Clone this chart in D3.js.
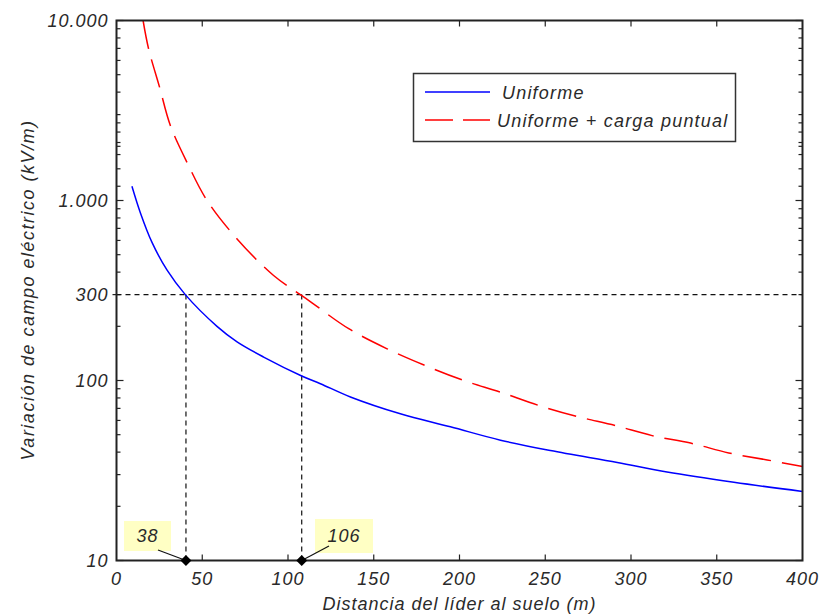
<!DOCTYPE html>
<html>
<head>
<meta charset="utf-8">
<script src="https://cdn.jsdelivr.net/npm/d3@7"></script>
<style>
  body { margin: 0; background: #fff; }
  text { font-family: "Liberation Sans", Arial, sans-serif; font-style: italic; fill: #2a2a2a; }
</style>
</head>
<body>
<script>
const WIDTH = 822;
const HEIGHT = 615;
const LEFT = 116.5;
const RIGHT = 802.5;
const TOP = 20.5;
const BOTTOM = 560.5;
const FONT_SIZE = 18;

// distance (m), field (kV/m)
const uniformX = [9, 14, 20.7, 29.5, 40.1, 58.6, 70.3, 85.8, 108, 118.9, 136.4, 165.5, 194.7, 223.9, 253, 292, 321, 360, 400];
const uniformY = [1200, 850, 585, 410, 300, 200, 164, 135, 106, 96, 81, 65.3, 55.3, 46.6, 40.8, 35, 31, 27.2, 24.2];

const pointX = [15.5, 18.7, 25.1, 31.4, 41.5, 52.8, 70.3, 91.6, 107.2, 114, 135.4, 157.8, 180.1, 202.5, 223.9, 246.3, 268.6, 290.9, 312.3, 334.7, 357, 379.4, 400];
const pointY = [10000, 6970, 4265, 2610, 1600, 1000, 612, 383, 300, 270, 194, 150, 121, 100, 86.1, 72.6, 63.1, 56.2, 49.4, 44.9, 39.6, 36.2, 33.3];

const xTicks = [0, 50, 100, 150, 200, 250, 300, 350, 400];
const yLabels = [10, 100, 300, 1000, 10000];
const yMajor = [10, 100, 1000, 10000];
const yExtra = [1200, 1500, 1800, 2100, 2400, 2700];

const threshold = 300;
const crossings = [
  { label: "38", x: 40.5 },
  { label: "106", x: 108 },
];

const legendItems = [
  { label: "Uniforme", color: "#0000ff", dash: null },
  { label: "Uniforme + carga puntual", color: "#ff0000", dash: "28,10" },
];

const x = d3.scaleLinear().domain([0, 400]).range([LEFT, RIGHT]);
const y = d3.scaleLog().domain([10, 10000]).range([BOTTOM, TOP]);

const svg = d3
  .select("body")
  .append("svg")
  .attr("width", WIDTH)
  .attr("height", HEIGHT);

svg
  .append("defs")
  .append("clipPath")
  .attr("id", "plot")
  .append("rect")
  .attr("x", LEFT)
  .attr("y", TOP)
  .attr("width", RIGHT - LEFT)
  .attr("height", BOTTOM - TOP);

// minor log ticks
let yMinor = [];
[10, 100, 1000].forEach((base) => {
  for (let k = 2; k <= 9; k++) yMinor.push(base * k);
});
yMinor = yMinor.concat(yExtra);

const ticks = svg.append("g").attr("stroke", "#222").attr("stroke-width", 1.2);

const tickLine = (list, len) => {
  list.forEach((v) => {
    ticks.append("line").attr("x1", LEFT).attr("x2", LEFT + len).attr("y1", y(v)).attr("y2", y(v));
    ticks.append("line").attr("x1", RIGHT).attr("x2", RIGHT - len).attr("y1", y(v)).attr("y2", y(v));
  });
};
tickLine(yMinor, 4);
tickLine(yMajor, 7);
ticks.append("line").attr("x1", LEFT - 4).attr("x2", LEFT).attr("y1", y(threshold)).attr("y2", y(threshold));

xTicks.slice(1, -1).forEach((v) => {
  ticks.append("line").attr("x1", x(v)).attr("x2", x(v)).attr("y1", BOTTOM).attr("y2", BOTTOM - 6);
  ticks.append("line").attr("x1", x(v)).attr("x2", x(v)).attr("y1", TOP).attr("y2", TOP + 6);
});

// reference lines
const refs = svg
  .append("g")
  .attr("stroke", "#111")
  .attr("stroke-width", 1.2)
  .attr("stroke-dasharray", "5,4");
refs.append("line").attr("x1", LEFT).attr("x2", RIGHT).attr("y1", y(threshold)).attr("y2", y(threshold));
crossings.forEach((c) => {
  refs.append("line").attr("x1", x(c.x)).attr("x2", x(c.x)).attr("y1", y(threshold)).attr("y2", BOTTOM);
});

// curves
const line = d3
  .line()
  .x((d) => x(d[0]))
  .y((d) => y(d[1]))
  .curve(d3.curveCatmullRom.alpha(0.5));

const plot = svg.append("g").attr("clip-path", "url(#plot)");
plot
  .append("path")
  .attr("d", line(uniformX.map((v, i) => [v, uniformY[i]])))
  .attr("fill", "none")
  .attr("stroke", "#0000ff")
  .attr("stroke-width", 1.5);
plot
  .append("path")
  .attr("d", line(pointX.map((v, i) => [v, pointY[i]])))
  .attr("fill", "none")
  .attr("stroke", "#ff0000")
  .attr("stroke-width", 1.5)
  .attr("stroke-dasharray", "29,11");

// frame
svg
  .append("rect")
  .attr("x", LEFT)
  .attr("y", TOP)
  .attr("width", RIGHT - LEFT)
  .attr("height", BOTTOM - TOP)
  .attr("fill", "none")
  .attr("stroke", "#222")
  .attr("stroke-width", 2);

// tick labels
const fmt = d3.formatLocale({ decimal: ",", thousands: ".", grouping: [3], currency: ["", ""] }).format(",d");

svg
  .append("g")
  .selectAll("text")
  .data(yLabels)
  .join("text")
  .attr("x", LEFT - 8)
  .attr("y", (d) => y(d))
  .attr("dy", "0.36em")
  .attr("text-anchor", "end")
  .attr("font-size", FONT_SIZE)
  .attr("letter-spacing", 1)
  .text((d) => fmt(d));

svg
  .append("g")
  .selectAll("text")
  .data(xTicks)
  .join("text")
  .attr("x", (d) => x(d))
  .attr("y", 585)
  .attr("text-anchor", "middle")
  .attr("font-size", FONT_SIZE)
  .attr("letter-spacing", 1)
  .text((d) => d);

// axis titles
svg
  .append("text")
  .attr("x", (LEFT + RIGHT) / 2)
  .attr("y", 610)
  .attr("text-anchor", "middle")
  .attr("font-size", FONT_SIZE)
  .attr("letter-spacing", 1)
  .text("Distancia del líder al suelo (m)");

svg
  .append("text")
  .attr("transform", "translate(34,290) rotate(-90)")
  .attr("text-anchor", "middle")
  .attr("font-size", FONT_SIZE)
  .attr("letter-spacing", 1.5)
  .text("Variación de campo eléctrico (kV/m)");

// crossing annotations
const boxes = [
  { x0: 124, y0: 521, w: 47, h: 30, lx: 158, ly: 550 },
  { x0: 315, y0: 519, w: 58, h: 34, lx: 329, ly: 546 },
];
crossings.forEach((c, i) => {
  const b = boxes[i];
  const g = svg.append("g");
  g.append("rect")
    .attr("x", b.x0)
    .attr("y", b.y0)
    .attr("width", b.w)
    .attr("height", b.h)
    .attr("fill", "#ffffc4");
  g.append("text")
    .attr("x", b.x0 + b.w / 2)
    .attr("y", b.y0 + b.h / 2)
    .attr("dy", "0.36em")
    .attr("text-anchor", "middle")
    .attr("font-size", FONT_SIZE)
    .attr("letter-spacing", 1)
    .text(c.label);
  g.append("line")
    .attr("x1", b.lx)
    .attr("y1", b.ly)
    .attr("x2", x(c.x))
    .attr("y2", BOTTOM)
    .attr("stroke", "#111")
    .attr("stroke-width", 1.2);
  g.append("path")
    .attr("d", "M0,-5.5L5.5,0L0,5.5L-5.5,0Z")
    .attr("transform", `translate(${x(c.x)},${BOTTOM})`)
    .attr("fill", "#000");
});

// legend
const legend = svg.append("g");
legend
  .append("rect")
  .attr("x", 413.5)
  .attr("y", 73.5)
  .attr("width", 322)
  .attr("height", 68)
  .attr("fill", "#fff")
  .attr("stroke", "#333")
  .attr("stroke-width", 1.5);
legendItems.forEach((item, i) => {
  const ly = 92 + i * 28;
  legend
    .append("line")
    .attr("x1", 425)
    .attr("x2", 490)
    .attr("y1", ly)
    .attr("y2", ly)
    .attr("stroke", item.color)
    .attr("stroke-width", 1.5)
    .attr("stroke-dasharray", item.dash);
  legend
    .append("text")
    .attr("x", i === 0 ? 502 : 497)
    .attr("y", ly + 7)
    .attr("font-size", FONT_SIZE)
    .attr("letter-spacing", 1.2)
    .text(item.label);
});
</script>
</body>
</html>
